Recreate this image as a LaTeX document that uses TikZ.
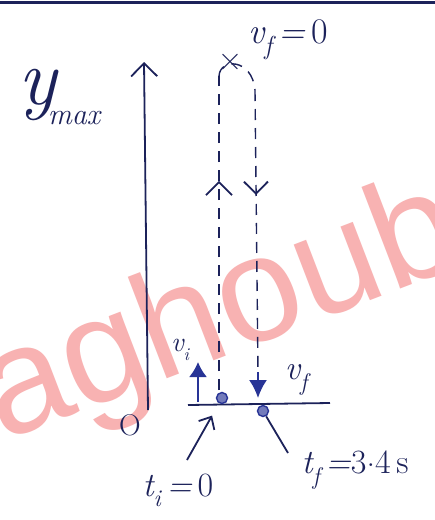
\documentclass[tikz,border=0pt]{standalone}
\usepackage{fontspec}
\usetikzlibrary{arrows.meta,decorations.markings}
\definecolor{ink}{RGB}{28,34,90}
\definecolor{inkb}{RGB}{40,52,150}
\definecolor{wm}{RGB}{248,178,178}
\newfontfamily\wmfont{Liberation Sans}
\newcommand\sbx[2]{\raisebox{-0.3em}{\fontsize{#1}{#1}\selectfont #2}}
\newcommand\fsz[1]{\fontsize{#1}{#1}\selectfont\itshape}
\newcommand\fsu[1]{\fontsize{#1}{#1}\selectfont\upshape}
\tikzset{
  inkline/.style={ink, line width=1.8pt},
  dashline/.style={ink, line width=1.4pt, dash pattern=on 11pt off 8pt},
  openhead/.style={-{Straight Barb[length=13pt,width=26pt]}},
  lbl/.style={ink, inner sep=0pt},
  dotnode/.style={circle, draw=inkb, fill=inkb!65, minimum size=11pt, inner sep=0pt, line width=1.4pt},
}
\begin{document}
\begin{tikzpicture}[x=1pt,y=-1pt]
\useasboundingbox (0,0) rectangle (435,520);
\fill[white] (0,0) rectangle (435,520);
% watermark
\node[wm, anchor=base west, rotate=21, inner sep=0pt, font=\wmfont\fontsize{150}{150}\selectfont] (wmk) at (2,442) {aghoub};
% top frame line
\draw[ink, line width=3pt] (0,2) -- (435,2);
% axis
\coordinate (ax0) at (148,410);
\coordinate (ax1) at (144,62);
\draw[inkline, openhead] (ax0) -- (ax1);
\node[lbl, font=\fsz{80}] (ylab) at (37,95) {y};
\node[lbl, font=\fsz{30}] (maxlab) at (74,118) {max};
\node[lbl, font=\fsu{30}] (olab) at (130,425) {O};
% ground
\coordinate (g0) at (188,405);
\coordinate (g1) at (330,403);
\draw[inkline] (g0) -- (g1);
% dots
\node[dotnode] (ci) at (222,398) {};
\node[dotnode] (cf) at (263,411) {};
% dashed trajectory
\coordinate (du0) at (219,390);
\coordinate (dtop) at (219,76);
\coordinate (dr) at (255,90);
\coordinate (dd) at (258,372);
\coordinate (fa) at (258,398);
\draw[dashline, postaction={decorate}, decoration={markings, mark=at position 0.666 with {\arrow[ink, line width=1.8pt]{Straight Barb[length=13pt,width=26pt]}}}] (du0) -- (dtop);
\draw[dashline] (dtop) .. controls (220,58) and (252,58) .. (dr);
\draw[dashline, postaction={decorate}, decoration={markings, mark=at position 0.372 with {\arrow[ink, line width=1.8pt]{Straight Barb[length=12pt,width=24pt]}}}] (dr) -- (dd);
\draw[inkb, line width=2pt, -{Latex[length=18pt,width=18pt]}] (dd) -- (fa);
\node[lbl, font=\fsu{34}] (apex) at (230,62) {×};
\node[lbl, font=\fsz{36}] (vftop) at (288,40) {v\sbx{26}{f}\,=\,\upshape 0};
% initial velocity
\coordinate (vi0) at (198,402);
\coordinate (vi1) at (198,362);
\draw[inkb, line width=2pt, -{Latex[length=15pt,width=18pt]}] (vi0) -- (vi1);
\node[lbl, font=\fsz{28}] (vilab) at (180,350) {v\sbx{18}{i}};
\node[lbl, font=\fsz{34}] (vflab) at (296,380) {v\sbx{24}{f}};
% time labels
\node[lbl, font=\fsz{34}] (tilab) at (178,490) {t\sbx{24}{i}\,=\,\upshape 0};
\coordinate (ta) at (187,460);
\draw[inkline, shorten >=14pt, -{Straight Barb[length=10pt,width=18pt]}] (ta) -- (ci);
\node[lbl, font=\fsz{34}] (tflab) at (355,470) {t\sbx{24}{f}\,=\upshape 3\raisebox{0.22em}{.}4\,s};
\coordinate (tb) at (288,453);
\draw[inkline] (cf) -- (tb);
\end{tikzpicture}
\end{document}
